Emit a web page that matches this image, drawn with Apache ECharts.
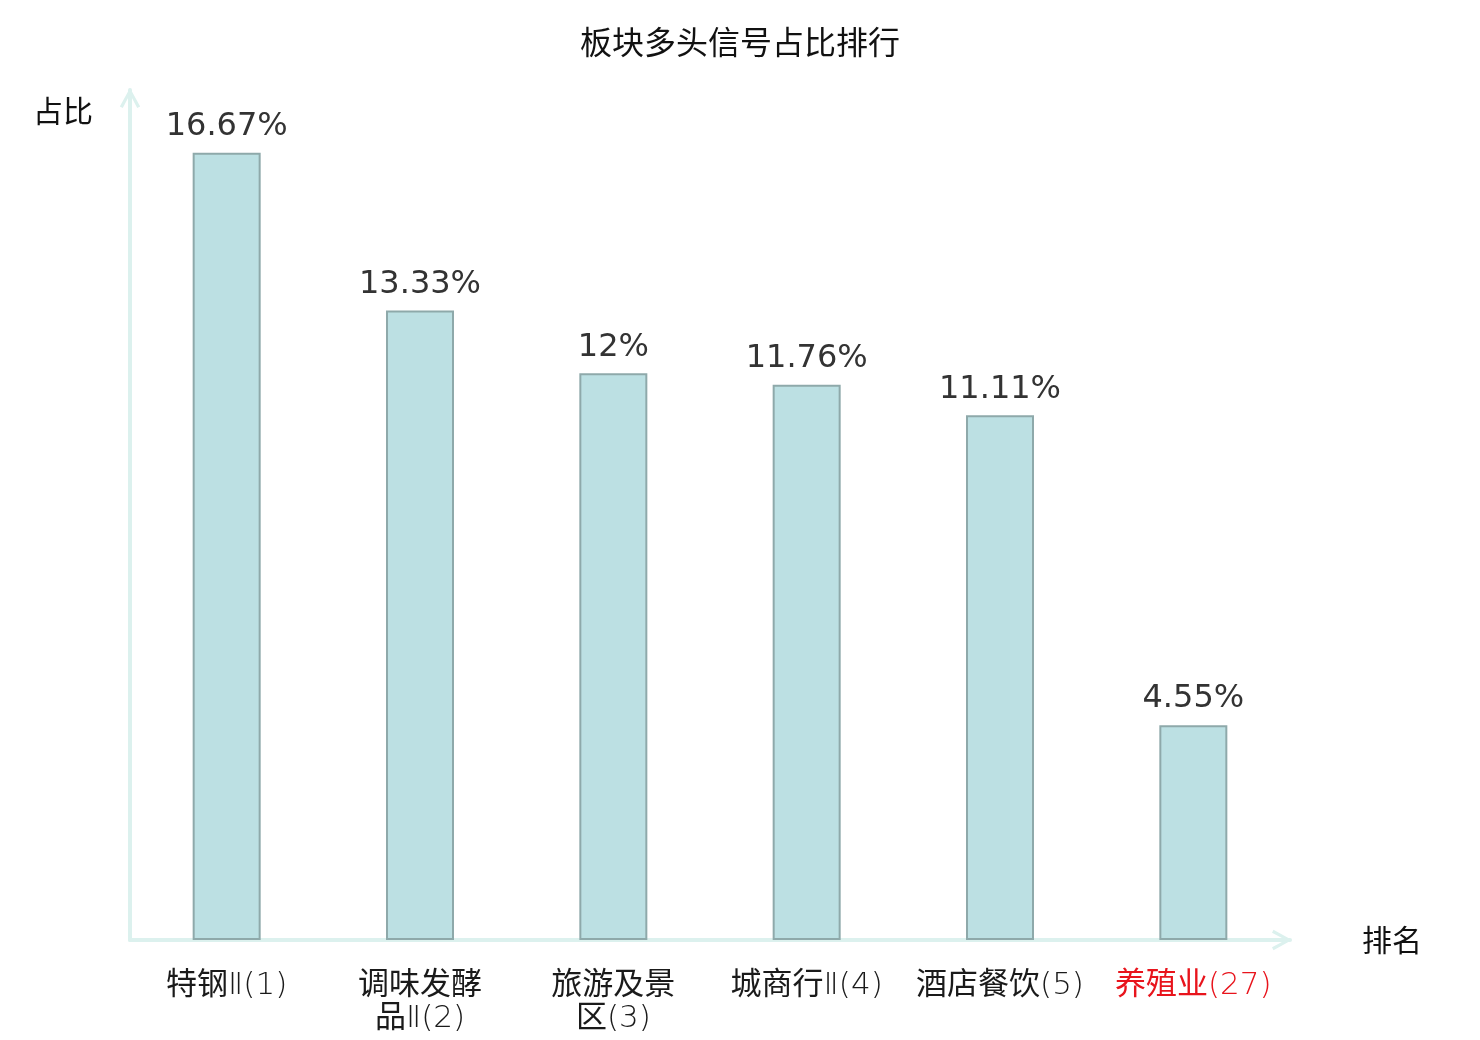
<!DOCTYPE html>
<html>
<head>
<meta charset="utf-8">
<script src="https://cdn.jsdelivr.net/npm/echarts@6/dist/echarts.min.js"></script>
<style>
	html, body { margin: 0; padding: 0; background: #fff; }
	#main { width: 1480px; height: 1040px; }
</style>
</head>
<body>
<div id="main"></div>
<script>
	// 板块名称
	var names = ['特钢Ⅱ', '调味发酵品Ⅱ', '旅游及景区', '城商行Ⅱ', '酒店餐饮', '养殖业'];
	// 排名
	var ranks = [1, 2, 3, 4, 5, 27];
	// 多头信号占比(%)
	var values = [16.67, 13.33, 12, 11.76, 11.11, 4.55];

	var cats = [];
	for(var i = 0; i < names.length; i++) {
		cats.push(names[i] + '(' + ranks[i] + ')');
	}

	// 名称超过4个字就换行
	function wrapName(idx) {
		var n = names[idx];
		var out = '';
		for(var k = 0; k < n.length; k += 4) {
			if(k > 0) out += '\n';
			out += n.substring(k, k + 4);
		}
		return out + '(' + ranks[idx] + ')';
	}

	// 空心箭头
	var arrowPath = 'path://M0,10 L5.5,0 L11,10 L9.4,10.8 L5.5,3.4 L1.6,10.8 Z';

	var chart = echarts.init(document.getElementById('main'));
	var option = {
		backgroundColor: '#fff',
		title: {
			text: '板块多头信号占比排行',
			left: 'center',
			top: 21,
			textStyle: {
				fontSize: 32,
				fontWeight: 'normal',
				color: '#111',
				fontFamily: 'Noto Sans CJK SC'
			}
		},
		grid: {
			left: 130,
			right: 190,
			top: 90,
			bottom: 100
		},
		xAxis: {
			type: 'category',
			data: cats,
			name: '排名',
			nameGap: 72,
			nameTextStyle: {
				fontSize: 30,
				color: '#111',
				fontFamily: 'Noto Sans CJK SC'
			},
			axisLine: {
				lineStyle: { color: '#dcf1ee', width: 4 },
				symbol: ['none', arrowPath],
				symbolSize: [22, 20],
				symbolOffset: [0, -8]
			},
			axisTick: { show: false },
			axisLabel: {
				interval: 0,
				margin: 29,
				fontSize: 31,
				lineHeight: 33,
				fontFamily: '"DejaVu Sans Light", "Noto Sans CJK SC"',
				color: function(value, index) {
					return index === names.length - 1 ? '#e8141c' : '#1a1a1a';
				},
				formatter: function(value, index) {
					return wrapName(index);
				}
			}
		},
		yAxis: {
			type: 'value',
			min: 0,
			max: 18,
			name: '占比',
			nameGap: -36,
			nameTextStyle: {
				fontSize: 30,
				color: '#111',
				align: 'right',
				padding: [0, 37, 0, 0],
				fontFamily: 'Noto Sans CJK SC'
			},
			axisLine: {
				show: true,
				lineStyle: { color: '#dcf1ee', width: 4 },
				symbol: ['none', arrowPath],
				symbolSize: [22, 20],
				symbolOffset: [0, -8]
			},
			axisTick: { show: false },
			axisLabel: { show: false },
			splitLine: { show: false }
		},
		series: [{
			type: 'bar',
			data: values,
			barWidth: 68,
			itemStyle: {
				color: '#bce0e3',
				borderColor: '#8ea9aa',
				borderWidth: 2
			},
			label: {
				show: true,
				position: 'top',
				distance: 10,
				fontSize: 32,
				color: '#333',
				fontFamily: 'DejaVu Sans',
				formatter: function(p) {
					return p.value + '%';
				}
			}
		}]
	};
	chart.setOption(option);
</script>
</body>
</html>
